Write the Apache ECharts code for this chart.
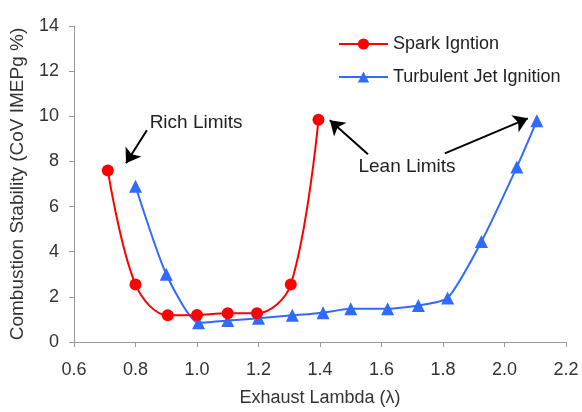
<!DOCTYPE html>
<html><head><meta charset="utf-8">
<script src="https://cdn.jsdelivr.net/npm/echarts@6/dist/echarts.min.js"></script>
<style>html,body{margin:0;padding:0;background:#fff}#c{width:582px;height:412px}</style>
</head><body><div id="c"></div>
<script>
const siLambda = [0.71, 0.80, 0.905, 1.00, 1.10, 1.195, 1.305, 1.395];
const siCov    = [7.6, 2.55, 1.18, 1.2, 1.27, 1.27, 2.55, 9.85];
const tjiLambda = [0.80, 0.90, 1.005, 1.10, 1.20, 1.31, 1.41, 1.50, 1.62, 1.72, 1.815, 1.925, 2.04, 2.105];
const tjiCov    = [6.9, 3.0, 0.85, 0.95, 1.05, 1.18, 1.3, 1.47, 1.47, 1.62, 1.95, 4.45, 7.75, 9.8];
const xTicks = {min: 0.6, max: 2.2, step: 0.2};
const yTicks = {min: 0, max: 14, step: 2};
const seriesNames = ['Spark Igntion', 'Turbulent Jet Ignition'];
const annotations = [
  {text: 'Rich Limits', x: 0.997, y: 9.73},
  {text: 'Lean Limits', x: 1.683, y: 7.77}
];
const arrows = [
  [[0.837, 9.38], [0.769, 7.92]],
  [[1.556, 8.32], [1.432, 9.82]],
  [[1.806, 8.36], [2.076, 9.91]]
];
const font = 'Liberation Sans, Arial, sans-serif';
const chart = echarts.init(document.getElementById('c'), null, {renderer: 'canvas'});
const pair = (xs, ys) => xs.map((x, i) => [x, ys[i]]);
chart.setOption({
  animation: false,
  backgroundColor: '#fff',
  grid: {left: 74, right: 16, top: 26, bottom: 70},
  legend: {
    left: 333, top: 30, orient: 'vertical', itemGap: 15,
    itemWidth: 49, itemHeight: 14,
    textStyle: {fontFamily: font, fontSize: 18, color: '#222'},
    data: seriesNames
  },
  xAxis: {
    type: 'value', min: xTicks.min, max: xTicks.max, interval: xTicks.step,
    name: 'Exhaust Lambda (λ)', nameLocation: 'middle', nameGap: 47,
    nameTextStyle: {fontFamily: font, fontSize: 18, color: '#333'},
    axisLine: {lineStyle: {color: '#999', width: 1}},
    axisTick: {show: true, length: 5, lineStyle: {color: '#999'}},
    axisLabel: {fontFamily: font, fontSize: 18, color: '#333', margin: 19,
      formatter: v => v.toFixed(1)},
    splitLine: {show: false}
  },
  yAxis: {
    type: 'value', min: yTicks.min, max: yTicks.max, interval: yTicks.step,
    name: 'Combustion Stability (CoV IMEPg %)', nameLocation: 'middle', nameGap: 47,
    nameTextStyle: {fontFamily: font, fontSize: 19, color: '#333'},
    axisLine: {show: true, lineStyle: {color: '#999', width: 1}},
    axisTick: {show: true, length: 5, lineStyle: {color: '#999'}},
    axisLabel: {fontFamily: font, fontSize: 18, color: '#333', margin: 15},
    splitLine: {show: false}
  },
  series: [
    {
      name: seriesNames[0], type: 'line', data: pair(siLambda, siCov),
      smooth: 0.35, symbol: 'circle', symbolSize: 12,
      lineStyle: {color: '#ff0000', width: 2}, itemStyle: {color: '#ff0000'},
      z: 3,
      markLine: {
        silent: true, symbol: ['none', 'arrow'], symbolSize: 14,
        lineStyle: {color: '#000', width: 2, type: 'solid'},
        itemStyle: {color: '#000'},
        label: {show: false},
        data: arrows.map(a => [{coord: a[0], symbol: 'none'}, {coord: a[1], symbol: 'arrow'}])
      },
      markPoint: {
        silent: true, symbol: 'circle', symbolSize: 0,
        label: {show: true, position: 'inside', fontFamily: font, fontSize: 19, color: '#222',
          formatter: p => p.name},
        data: annotations.map(a => ({name: a.text, coord: [a.x, a.y]}))
      }
    },
    {
      name: seriesNames[1], type: 'line', data: pair(tjiLambda, tjiCov),
      smooth: 0.2, symbol: 'triangle', symbolSize: 13,
      lineStyle: {color: '#2f6bff', width: 2}, itemStyle: {color: '#2f6bff'},
      z: 2
    }
  ]
});
</script></body></html>
